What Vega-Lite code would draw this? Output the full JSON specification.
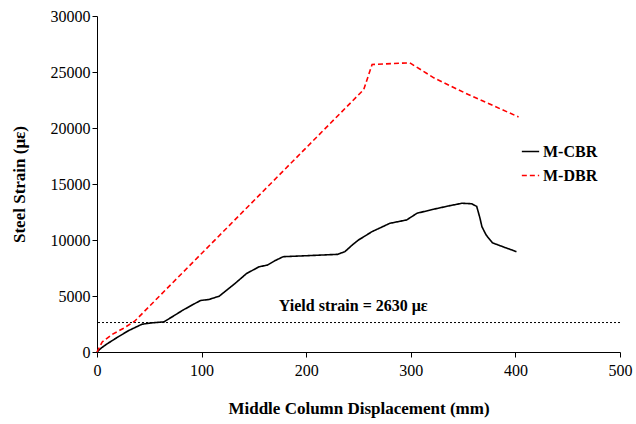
{
  "$schema": "https://vega.github.io/schema/vega-lite/v6.json",
  "width": 523,
  "height": 336,
  "autosize": "none",
  "padding": {"left": 97, "top": 16, "right": 16, "bottom": 72},
  "background": "white",
  "config": {
    "view": {"stroke": null},
    "font": "Liberation Serif",
    "axis": {"grid": false, "labelFlush": false, "domainColor": "#000", "tickColor": "#000", "labelColor": "#000", "titleColor": "#000", "labelFont": "Liberation Serif", "titleFont": "Liberation Serif", "labelFontSize": 16, "titleFontSize": 17, "titleFontWeight": "bold", "tickSize": 5, "domainWidth": 1}
  },
  "datasets": {
    "curves": [
      {"series": "M-CBR", "x": 0, "y": 0},
      {"series": "M-CBR", "x": 4, "y": 350},
      {"series": "M-CBR", "x": 10, "y": 750},
      {"series": "M-CBR", "x": 20, "y": 1340},
      {"series": "M-CBR", "x": 30, "y": 1900},
      {"series": "M-CBR", "x": 43, "y": 2480},
      {"series": "M-CBR", "x": 52, "y": 2600},
      {"series": "M-CBR", "x": 64, "y": 2690},
      {"series": "M-CBR", "x": 72, "y": 3150},
      {"series": "M-CBR", "x": 82, "y": 3730},
      {"series": "M-CBR", "x": 92, "y": 4250},
      {"series": "M-CBR", "x": 99, "y": 4600},
      {"series": "M-CBR", "x": 107, "y": 4690},
      {"series": "M-CBR", "x": 117, "y": 4990},
      {"series": "M-CBR", "x": 125, "y": 5600},
      {"series": "M-CBR", "x": 132, "y": 6120},
      {"series": "M-CBR", "x": 143, "y": 7010},
      {"series": "M-CBR", "x": 155, "y": 7610},
      {"series": "M-CBR", "x": 163, "y": 7760},
      {"series": "M-CBR", "x": 170, "y": 8150},
      {"series": "M-CBR", "x": 178, "y": 8510},
      {"series": "M-CBR", "x": 201, "y": 8600},
      {"series": "M-CBR", "x": 230, "y": 8720},
      {"series": "M-CBR", "x": 237, "y": 8960},
      {"series": "M-CBR", "x": 244, "y": 9550},
      {"series": "M-CBR", "x": 250, "y": 10000},
      {"series": "M-CBR", "x": 263, "y": 10750},
      {"series": "M-CBR", "x": 280, "y": 11490},
      {"series": "M-CBR", "x": 296, "y": 11790},
      {"series": "M-CBR", "x": 306, "y": 12390},
      {"series": "M-CBR", "x": 322, "y": 12750},
      {"series": "M-CBR", "x": 336, "y": 13040},
      {"series": "M-CBR", "x": 349, "y": 13280},
      {"series": "M-CBR", "x": 358, "y": 13240},
      {"series": "M-CBR", "x": 363, "y": 13000},
      {"series": "M-CBR", "x": 366, "y": 12000},
      {"series": "M-CBR", "x": 368, "y": 11190},
      {"series": "M-CBR", "x": 372, "y": 10450},
      {"series": "M-CBR", "x": 378, "y": 9750},
      {"series": "M-CBR", "x": 388, "y": 9400},
      {"series": "M-CBR", "x": 401, "y": 8960},
      {"series": "M-DBR", "x": 0, "y": 0},
      {"series": "M-DBR", "x": 5, "y": 900},
      {"series": "M-DBR", "x": 15, "y": 1600},
      {"series": "M-DBR", "x": 25, "y": 2100},
      {"series": "M-DBR", "x": 36, "y": 2750},
      {"series": "M-DBR", "x": 255, "y": 23430},
      {"series": "M-DBR", "x": 263, "y": 25670},
      {"series": "M-DBR", "x": 299, "y": 25820},
      {"series": "M-DBR", "x": 322, "y": 24480},
      {"series": "M-DBR", "x": 355, "y": 22985},
      {"series": "M-DBR", "x": 403, "y": 20985}
    ],
    "yield": [{"y": 2630, "x": 245, "ty": 4150, "label": "Yield strain = 2630 με"}]
  },
  "layer": [
    {
      "data": {"name": "yield"},
      "mark": {"type": "rule", "color": "#000", "strokeWidth": 1, "strokeDash": [2, 2]},
      "encoding": {"y": {"field": "y", "type": "quantitative", "scale": {"domain": [0, 30000]}}}
    },
    {
      "data": {"name": "yield"},
      "mark": {"type": "text", "font": "Liberation Serif", "fontWeight": "bold", "fontSize": 16, "color": "#000"},
      "encoding": {
        "x": {"field": "x", "type": "quantitative"},
        "y": {"field": "ty", "type": "quantitative"},
        "text": {"field": "label"}
      }
    },
    {
      "data": {"name": "curves"},
      "mark": {"type": "line", "strokeWidth": 1.6},
      "encoding": {
        "x": {"field": "x", "type": "quantitative", "scale": {"domain": [0, 500]}, "axis": {"values": [0, 100, 200, 300, 400, 500], "title": "Middle Column Displacement (mm)", "titlePadding": 22, "labelPadding": 5}},
        "y": {"field": "y", "type": "quantitative", "scale": {"domain": [0, 30000]}, "axis": {"values": [0, 5000, 10000, 15000, 20000, 25000, 30000], "title": "Steel Strain (με)", "format": "d", "titlePadding": 22}},
        "color": {"field": "series", "type": "nominal", "scale": {"domain": ["M-CBR", "M-DBR"], "range": ["#000000", "#ff0000"]},
          "legend": {"orient": "none", "legendX": 424, "legendY": 126, "title": null, "symbolType": "stroke", "symbolSize": 300, "symbolStrokeWidth": 1.6, "labelFont": "Liberation Serif", "labelFontWeight": "bold", "labelFontSize": 16, "labelColor": "#000", "rowPadding": 6, "labelOffset": 3,
            "symbolDash": {"expr": "datum.value == 'M-DBR' ? [4,2] : [1,0]"}}},
        "strokeDash": {"field": "series", "type": "nominal", "scale": {"domain": ["M-CBR", "M-DBR"], "range": [[1, 0], [5, 3]]}, "legend": null}
      }
    }
  ]
}
